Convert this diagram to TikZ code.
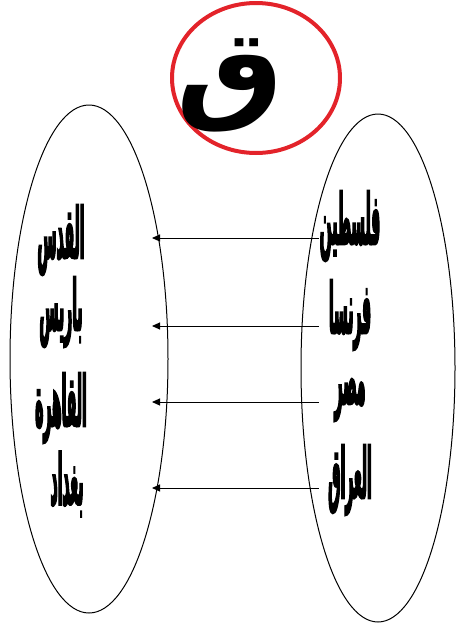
\documentclass[tikz,border=0pt]{standalone}
\usepackage{fontspec}
\usepackage{graphicx}
\usepackage{tikz}
\usetikzlibrary{
  arrows.meta,
  shapes.geometric,
}
\TeXXeTstate=1
\newfontfamily\arabicfont[Script=Arabic,FakeStretch=0.45,FakeBold=3.5]{DejaVu Sans}
\newfontfamily\qaffont[Script=Arabic]{DejaVu Sans}
\newcommand{\arword}[1]{\scalebox{0.57}[1.3]{\arabicfont\bfseries\beginR #1\endR}}
\definecolor{ringred}{HTML}{E3232A}
\definecolor{ink}{HTML}{000000}
\tikzset{
  >={Triangle[length=4pt,width=3.5pt]},
  setline/.style={draw=ink, line width=0.5pt},
  word/.style={
    font=\arabicfont\bfseries\fontsize{27}{29}\selectfont,
    text=ink,
    inner sep=0pt,
  },
  country/.style={word, minimum width=31pt},
  link/.style={draw=ink, line width=0.5pt, ->},
}

\begin{document}
\begin{tikzpicture}[x=0.5pt,y=-0.5pt]
  \useasboundingbox (0,0) rectangle (456,632);

  % letter in the red ring
  \draw[ringred, line width=2pt] (256,78) ellipse (84 and 75);
  \node[font=\qaffont\bfseries\fontsize{50}{52}\selectfont, inner sep=0pt] (qaf) at (230,85) {\scalebox{1.2}[1.1]{\beginR ق\endR}};

  % left set
  \draw[setline] (89,359) ellipse (79 and 254);
  \node[word] (quds) at (61,240) {\arword{القدس}};
  \node[word] (paris) at (61,312) {\arword{باريس}};
  \node[word] (cairo) at (61,408) {\arword{القاهرة}};
  \node[word] (baghdad) at (67,484) {\arword{بغداد}};

  % right set
  \draw[setline] (378,368) ellipse (77 and 254);
  \node[country] (palestine) at (350,226) {\arword{فلسطين}};
  \node[country] (france) at (350,315) {\arword{فرنسا}};
  \node[country] (egypt) at (350,400) {\arword{مصر}};
  \node[country] (iraq) at (350,480) {\arword{العراق}};

  \coordinate (t1) at (152,238);
  \coordinate (t2) at (152,326);
  \coordinate (t3) at (152,402);
  \coordinate (t4) at (152,488);

  \draw[link] (palestine.west |- t1) -- (t1);
  \draw[link] (france.west |- t2) -- (t2);
  \draw[link] (egypt.west |- t3) -- (t3);
  \draw[link] (iraq.west |- t4) -- (t4);
\end{tikzpicture}
\end{document}
